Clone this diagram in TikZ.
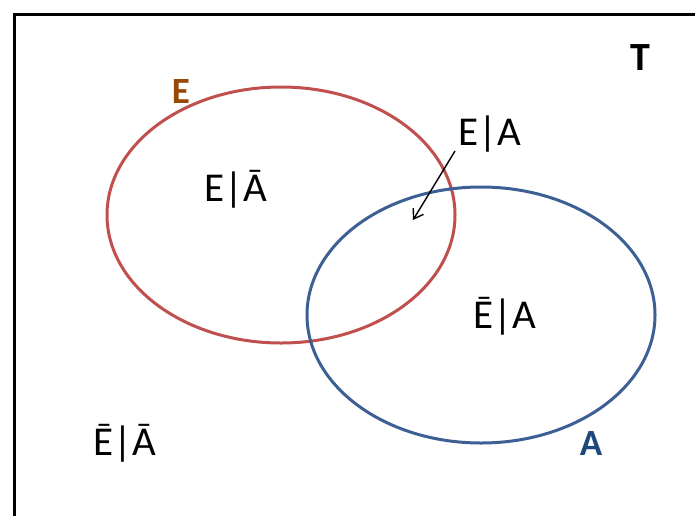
\documentclass[tikz,border=0pt]{standalone}
\usepackage{fontspec}
\setmainfont{Carlito}
\usetikzlibrary{arrows.meta,shapes.geometric}
\definecolor{redE}{RGB}{192,80,77}
\definecolor{blueA}{RGB}{60,96,148}
\definecolor{brownE}{RGB}{151,72,6}
\definecolor{darkblueA}{RGB}{31,73,125}
\tikzset{
  lbl/.style={font=\fontsize{41}{43}\selectfont, inner sep=0pt},
  setlbl/.style={font=\fontsize{37}{39}\selectfont\bfseries, inner sep=0pt},
  setell/.style={line width=3pt, ellipse, minimum width=348pt, minimum height=256pt, inner sep=0pt},
}
\begin{document}
\begin{tikzpicture}[x=1pt,y=-1pt]
\useasboundingbox (0,0) rectangle (695,515);
\fill[white] (0,0) rectangle (695,515);
\draw[line width=3pt] (14,530) -- (14,14) -- (710,14);
\node[setell, draw=redE] (E) at (281,215) {};
\node[setell, draw=blueA] (A) at (481,315) {};
\node[setlbl, text=brownE] (lE) at (181,91) {E};
\node[setlbl, text=black, font=\fontsize{40}{42}\selectfont\bfseries] (lT) at (640,58) {T};
\node[setlbl, text=darkblueA] (lA) at (591,443) {A};
\node[lbl] (ea) at (490,134) {E|A};
\node[lbl] (ena) at (236,189) {E|Ā};
\node[lbl] (nea) at (505,316) {Ē|A};
\node[lbl] (nena) at (125,443) {Ē|Ā};
\coordinate (tip) at (413,220);
\draw[line width=1.4pt, -{Straight Barb[length=9pt,width=12pt]}] (455,151) -- (tip);
\end{tikzpicture}
\end{document}
